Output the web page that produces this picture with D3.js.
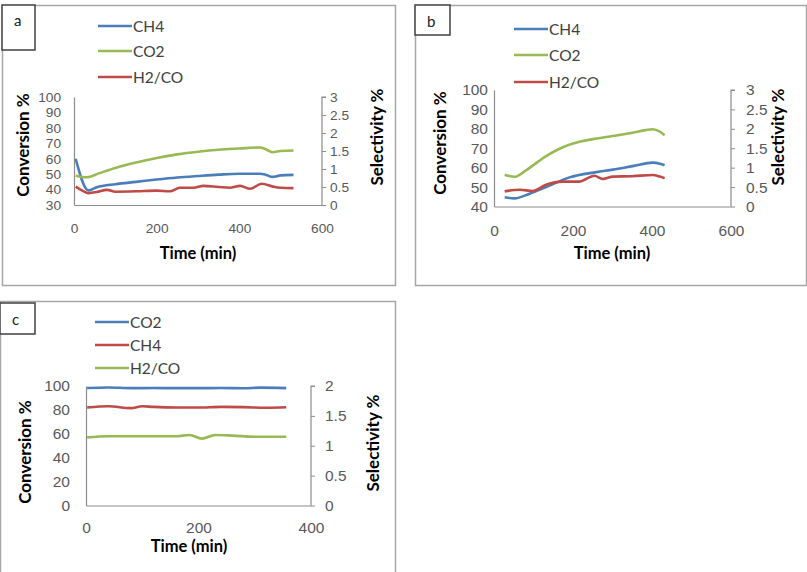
<!doctype html>
<html lang="en">
<head>
  <meta charset="utf-8">
  <title>Conversion and selectivity - D3</title>
  <style>
    body { margin: 0; background: #fff; }
    svg { display: block; font-family: Lato, "Open Sans", sans-serif; }
  </style>
</head>
<body>
  <svg></svg>
  <script src="https://cdn.jsdelivr.net/npm/d3@7/dist/d3.min.js"></script>
  <script>
    // panel a
    var aCH4Time = [4, 35, 55, 100, 150, 200, 250, 300, 350, 400, 450, 465, 480, 500, 531];
    var aCH4 = [60, 39.5, 41.5, 43.5, 45, 46.5, 47.8, 48.8, 49.7, 50.3, 50.3, 49.5, 48.2, 49.2, 49.5];
    var aCO2Time = [4, 31, 60, 100, 150, 200, 250, 300, 350, 400, 450, 465, 480, 500, 531];
    var aCO2 = [49, 48, 50.5, 54, 57.5, 60.5, 62.8, 64.5, 65.8, 66.6, 67.3, 66, 64.2, 65, 65.3];
    var aH2COTime = [4, 20, 35, 55, 80, 100, 150, 200, 232, 256, 289, 313, 350, 377, 402, 426, 454, 482, 500, 531];
    var aH2CO = [0.51, 0.4, 0.33, 0.36, 0.42, 0.37, 0.38, 0.4, 0.38, 0.48, 0.48, 0.53, 0.5, 0.48, 0.53, 0.45, 0.59, 0.51, 0.48, 0.47];

    // panel b
    var bCH4Time = [27, 52, 90, 132, 191, 259, 301, 351, 402, 420, 432];
    var bCH4 = [44.8, 44.2, 46.6, 50, 55, 57.7, 59, 60.8, 62.6, 62, 61.2];
    var bCO2Time = [27, 52, 80, 132, 174, 216, 259, 300, 351, 380, 402, 420, 432];
    var bCO2 = [56.4, 55.3, 58.5, 66, 70.5, 73.3, 75, 76.3, 78, 79.2, 79.8, 78.5, 76.7];
    var bH2COTime = [27, 65, 98, 132, 174, 216, 233, 254, 275, 301, 350, 402, 420, 432];
    var bH2CO = [0.39, 0.43, 0.4, 0.56, 0.64, 0.64, 0.71, 0.79, 0.71, 0.77, 0.78, 0.81, 0.77, 0.73];

    // panel c
    var cCO2Time = [2, 40, 80, 120, 160, 200, 240, 280, 310, 356];
    var cCO2 = [98.3, 98.8, 98.2, 98.3, 98.2, 98.2, 98.3, 98.1, 98.6, 98.2];
    var cCH4Time = [2, 40, 80, 100, 120, 160, 200, 240, 280, 320, 356];
    var cCH4 = [82, 83, 81.5, 83, 82.5, 82, 82, 82.5, 82.3, 81.8, 82.2];
    var cH2COTime = [2, 40, 80, 120, 160, 184, 206, 230, 260, 300, 356];
    var cH2CO = [1.14, 1.16, 1.16, 1.16, 1.16, 1.18, 1.12, 1.18, 1.17, 1.15, 1.15];

    // tick labels
    var xTicks600 = [0, 200, 400, 600];
    var xTicks400 = [0, 200, 400];
    var aLeftTicks = [30, 40, 50, 60, 70, 80, 90, 100];
    var bLeftTicks = [40, 50, 60, 70, 80, 90, 100];
    var cLeftTicks = [0, 20, 40, 60, 80, 100];
    var selTicks3 = [0, 0.5, 1, 1.5, 2, 2.5, 3];
    var selTicks2 = [0, 0.5, 1, 1.5, 2];

    var BLUE = '#4a7ebb', GREEN = '#98b954', RED = '#be4b48';

    var svg = d3.select('svg').attr('width', 807).attr('height', 572);

    // panel frames
    var frames = [[2, 5, 393, 280], [415, 5, 391, 280], [0, 301, 395, 275]];
    frames.forEach(function (f) {
      svg.append('rect').attr('x', f[0] + 0.5).attr('y', f[1] + 0.5)
        .attr('width', f[2]).attr('height', f[3])
        .attr('fill', 'none').attr('stroke', '#a6a6a6').attr('stroke-width', 1.5);
    });

    function drawPanel(p) {
      var x = d3.scaleLinear().domain([0, p.xMax]).range([p.x0, p.x1]);
      var yL = d3.scaleLinear().domain(p.leftDomain).range([p.yBot, p.yTop]);
      var yR = d3.scaleLinear().domain([0, p.rightMax]).range([p.yBot, p.yTop]);
      var g = svg.append('g');
      var fmt = d3.format('~g');

      // letter box
      g.append('rect').attr('x', p.box[0]).attr('y', p.box[1])
        .attr('width', p.box[2]).attr('height', p.box[3])
        .attr('fill', '#fff').attr('stroke', '#404040').attr('stroke-width', 1.5);
      g.append('text').text(p.letter)
        .attr('x', p.box[0] + 12).attr('y', p.box[1] + p.letterDy)
        .attr('font-size', 15).attr('fill', '#222');

      // axes
      var axL = g.append('g').attr('transform', 'translate(' + p.x0 + ',0)')
        .call(d3.axisLeft(yL).tickValues(p.leftTicks).tickFormat(fmt).tickSize(0).tickPadding(p.leftPad));
      var axR = g.append('g').attr('transform', 'translate(' + p.x1 + ',0)')
        .call(d3.axisRight(yR).tickValues(p.rightTicks).tickFormat(fmt).tickSize(4).tickPadding(p.rightPad));
      var axB = g.append('g').attr('transform', 'translate(0,' + p.yBot + ')')
        .call(d3.axisBottom(x).tickValues(p.xTicks).tickFormat(fmt).tickSize(0).tickPadding(p.bottomPad));
      [axL, axR, axB].forEach(function (ax) {
        ax.select('.domain').attr('stroke', '#8c8c8c').attr('stroke-width', 1.2);
        ax.selectAll('.tick line').attr('stroke', '#8c8c8c');
        ax.selectAll('.tick text').attr('fill', '#595959').attr('font-size', p.tickSize)
          .attr('font-family', '"Liberation Sans", Arial, sans-serif');
      });
      axR.select('.domain').attr('d', 'M0,' + p.yBot + 'V' + p.yTop + 'H4');

      // axis titles
      g.append('text').text('Conversion %')
        .attr('transform', 'translate(' + p.convX + ',' + p.convY + ') rotate(-90)')
        .attr('text-anchor', 'middle').attr('font-weight', 'bold').attr('font-size', 17);
      g.append('text').text('Selectivity %')
        .attr('transform', 'translate(' + p.selX + ',' + p.selY + ') rotate(-90)')
        .attr('text-anchor', 'middle').attr('font-weight', 'bold').attr('font-size', 17);
      g.append('text').text('Time (min)')
        .attr('x', p.timeX).attr('y', p.timeY)
        .attr('text-anchor', 'middle').attr('font-weight', 'bold').attr('font-size', 16.5);

      // series lines
      p.series.forEach(function (s) {
        var y = s.right ? yR : yL;
        var pts = s.t.map(function (t, i) { return [t, s.v[i]]; });
        g.append('path').datum(pts)
          .attr('fill', 'none').attr('stroke', s.color).attr('stroke-width', 2.6)
          .attr('stroke-linejoin', 'round')
          .attr('d', d3.line().curve(d3.curveMonotoneX)
            .x(function (d) { return x(d[0]); })
            .y(function (d) { return y(d[1]); }));
      });

      // legend
      p.series.forEach(function (s, i) {
        var ly = p.legY[i];
        g.append('line').attr('x1', p.legX).attr('x2', p.legX + 34)
          .attr('y1', ly).attr('y2', ly)
          .attr('stroke', s.color).attr('stroke-width', 2.6);
        g.append('text').text(s.name).attr('x', p.legX + 35).attr('y', ly + 5.5)
          .attr('font-size', 15.5).attr('fill', '#404040');
      });
    }

    drawPanel({
      letter: 'a', box: [2, 5, 33, 45], letterDy: 21,
      xMax: 600, x0: 74, x1: 322, yTop: 97, yBot: 205,
      leftDomain: [30, 100], rightMax: 3, tickSize: 13.7,
      leftTicks: aLeftTicks, rightTicks: selTicks3, xTicks: xTicks600,
      leftPad: 13, rightPad: 4, bottomPad: 18,
      convX: 29, convY: 145, selX: 383, selY: 137, timeX: 198, timeY: 259,
      legX: 98, legY: [26, 51, 77],
      series: [
        { name: 'CH4', color: BLUE, t: aCH4Time, v: aCH4 },
        { name: 'CO2', color: GREEN, t: aCO2Time, v: aCO2 },
        { name: 'H2/CO', color: RED, t: aH2COTime, v: aH2CO, right: true }
      ]
    });

    drawPanel({
      letter: 'b', box: [415, 5, 35, 30], letterDy: 22,
      xMax: 600, x0: 494, x1: 731, yTop: 90, yBot: 206.5,
      leftDomain: [40, 100], rightMax: 3, tickSize: 15.5,
      leftTicks: bLeftTicks, rightTicks: selTicks3, xTicks: xTicks600,
      leftPad: 6, rightPad: 11, bottomPad: 18,
      convX: 446, convY: 143, selX: 784, selY: 137, timeX: 612, timeY: 259,
      legX: 514, legY: [29, 55, 82],
      series: [
        { name: 'CH4', color: BLUE, t: bCH4Time, v: bCH4 },
        { name: 'CO2', color: GREEN, t: bCO2Time, v: bCO2 },
        { name: 'H2/CO', color: RED, t: bH2COTime, v: bH2CO, right: true }
      ]
    });

    drawPanel({
      letter: 'c', box: [0, 303, 35, 31], letterDy: 22,
      xMax: 400, x0: 86, x1: 311, yTop: 386, yBot: 505.5, tickSize: 15.5,
      leftDomain: [0, 100], rightMax: 2,
      leftTicks: cLeftTicks, rightTicks: selTicks2, xTicks: xTicks400,
      leftPad: 16, rightPad: 10, bottomPad: 16,
      convX: 31, convY: 452, selX: 379, selY: 443, timeX: 189, timeY: 552,
      legX: 95, legY: [322, 345, 368],
      series: [
        { name: 'CO2', color: BLUE, t: cCO2Time, v: cCO2 },
        { name: 'CH4', color: RED, t: cCH4Time, v: cCH4 },
        { name: 'H2/CO', color: GREEN, t: cH2COTime, v: cH2CO, right: true }
      ]
    });
  </script>
</body>
</html>
